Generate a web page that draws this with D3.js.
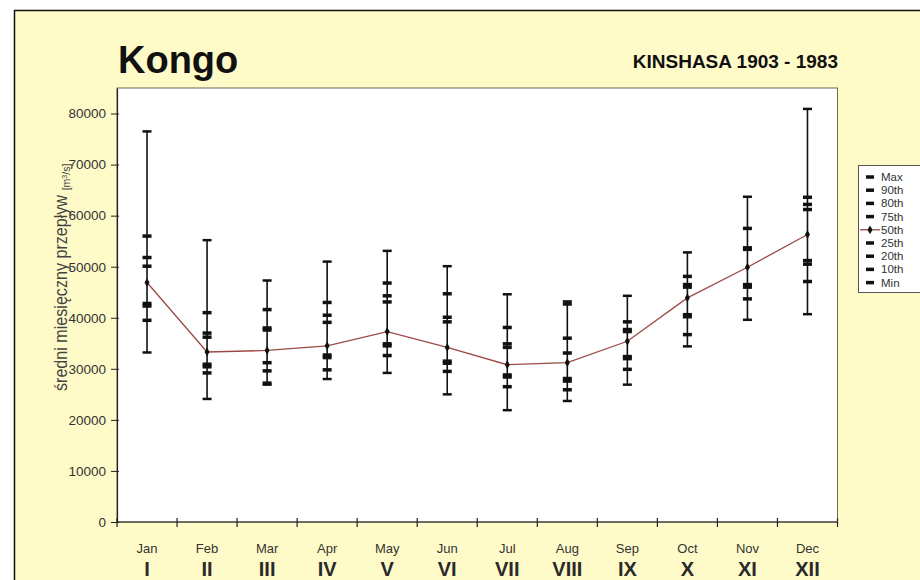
<!DOCTYPE html>
<html>
<head>
<meta charset="utf-8">
<script src="https://cdn.jsdelivr.net/npm/d3@7"></script>
<style>
  html, body { margin: 0; padding: 0; background: #ffffff; }
  svg { display: block; }
  .narrow { font-family: "Liberation Sans Narrow", "Arial Narrow", "Liberation Sans", Arial, sans-serif; font-stretch: condensed; }
</style>
</head>
<body>
<svg id="chart" width="920" height="580"></svg>
<script>
// Monthly discharge distribution of the Congo at Kinshasa, 1903-1983
const months = ["Jan", "Feb", "Mar", "Apr", "May", "Jun", "Jul", "Aug", "Sep", "Oct", "Nov", "Dec"];
const roman  = ["I", "II", "III", "IV", "V", "VI", "VII", "VIII", "IX", "X", "XI", "XII"];

const pMax = [76500, 55200, 47300, 51000, 53100, 50100, 44600, 43200, 44300, 52800, 63700, 80900];
const p90  = [56000, 41000, 41600, 43000, 46800, 44700, 38100, 42700, 39200, 48100, 57500, 63600];
const p80  = [51800, 37000, 38000, 40500, 44300, 40100, 34900, 36000, 37700, 46500, 53700, 62200];
const p75  = [50100, 36200, 37600, 39100, 43100, 39200, 34200, 33100, 37300, 46000, 53400, 61200];
const p50  = [46900, 33300, 33600, 34500, 37300, 34200, 30800, 31200, 35400, 43900, 49900, 56300];
const p25  = [42800, 30900, 31200, 32700, 34900, 31500, 28800, 28100, 32400, 40600, 46500, 51200];
const p20  = [42300, 30400, 29600, 32200, 34500, 31100, 28400, 27600, 32000, 40200, 46000, 50500];
const p10  = [39500, 29200, 27200, 29800, 32600, 29500, 26500, 25900, 29900, 36700, 43700, 47100];
const pMin = [33200, 24100, 26900, 28000, 29200, 25000, 21900, 23700, 26900, 34400, 39600, 40700];

const yTicks = [0, 10000, 20000, 30000, 40000, 50000, 60000, 70000, 80000];
const legendLabels = ["Max", "90th", "80th", "75th", "50th", "25th", "20th", "10th", "Min"];

const svg = d3.select("#chart");

// page frame with pale yellow fill
svg.append("rect")
  .attr("x", 14.5).attr("y", 10.5)
  .attr("width", 940).attr("height", 600)
  .attr("fill", "#fffbc9")
  .attr("stroke", "#111").attr("stroke-width", 1.5);

const plot = { left: 117, right: 837.5, top: 88, bottom: 522 };

const x = d3.scaleBand().domain(months).range([plot.left, plot.right]).padding(0);
const y = d3.scaleLinear().domain([0, 85000]).range([plot.bottom, plot.top]);
const cx = m => x(m) + x.bandwidth() / 2;

// plot area
svg.append("rect")
  .attr("x", plot.left).attr("y", plot.top)
  .attr("width", plot.right - plot.left).attr("height", plot.bottom - plot.top)
  .attr("fill", "#ffffff")
  .attr("stroke", "#6b6b55").attr("stroke-width", 1);

// titles
svg.append("text")
  .attr("x", 118).attr("y", 73)
  .attr("font-family", "Liberation Sans, Arial, sans-serif")
  .attr("font-weight", "bold").attr("font-size", 38)
  .attr("fill", "#111")
  .text("Kongo");

svg.append("text")
  .attr("x", 838).attr("y", 68)
  .attr("text-anchor", "end")
  .attr("font-family", "Liberation Sans, Arial, sans-serif")
  .attr("font-weight", "bold").attr("font-size", 19)
  .attr("fill", "#111")
  .text("KINSHASA 1903 - 1983");

// y axis
const yAxis = d3.axisLeft(y).tickValues(yTicks).tickFormat(d3.format("d")).tickSizeInner(6).tickSizeOuter(0).tickPadding(5);
const gy = svg.append("g").attr("transform", `translate(${plot.left},0)`).call(yAxis);
gy.select(".domain").attr("stroke", "#222").attr("stroke-width", 1.2);
gy.selectAll(".tick line").attr("stroke", "#222").attr("x2", -6).attr("x1", 2);
gy.selectAll(".tick text")
  .attr("font-family", "Liberation Sans, Arial, sans-serif")
  .attr("font-size", 13.5).attr("fill", "#333");

// x axis: ticks at category boundaries
const gx = svg.append("g").attr("transform", `translate(0,${plot.bottom})`);
gx.append("line")
  .attr("x1", plot.left).attr("x2", plot.right)
  .attr("stroke", "#222").attr("stroke-width", 1.2);
gx.selectAll("line.bt")
  .data(months.concat(["end"]))
  .join("line")
  .attr("class", "bt")
  .attr("x1", (d, i) => i < months.length ? x(d) : plot.right)
  .attr("x2", (d, i) => i < months.length ? x(d) : plot.right)
  .attr("y1", -4).attr("y2", 5)
  .attr("stroke", "#222").attr("stroke-width", 1.2);

gx.selectAll("text.mon")
  .data(months)
  .join("text")
  .attr("class", "mon")
  .attr("x", d => cx(d)).attr("y", 30.5)
  .attr("text-anchor", "middle")
  .attr("font-family", "Liberation Sans, Arial, sans-serif")
  .attr("font-size", 13).attr("fill", "#333")
  .text(d => d);

gx.selectAll("text.rom")
  .data(months)
  .join("text")
  .attr("class", "rom narrow")
  .attr("x", d => cx(d)).attr("y", 53.5)
  .attr("text-anchor", "middle")
  .attr("font-weight", "bold").attr("font-size", 20)
  .attr("fill", "#2a2a2a")
  .text((d, i) => roman[i]);

// y axis title
svg.append("text")
  .attr("transform", "translate(67,293) rotate(-90)")
  .attr("text-anchor", "middle")
  .attr("font-family", "Liberation Sans, Arial, sans-serif")
  .attr("font-size", 18).attr("fill", "#444")
  .attr("textLength", 196).attr("lengthAdjust", "spacingAndGlyphs")
  .text("średni miesięczny przepływ");

const unit = svg.append("text")
  .attr("transform", "translate(70,177) rotate(-90)")
  .attr("text-anchor", "middle")
  .attr("font-family", "Liberation Sans, Arial, sans-serif")
  .attr("font-size", 10.5).attr("fill", "#444");
unit.append("tspan").text("[m");
unit.append("tspan").attr("font-size", 7).attr("dy", -3).text("3");
unit.append("tspan").attr("dy", 3).text("/s]");

// percentile rows
const rows = months.map((m, i) => ({
  m, max: pMax[i], p90: p90[i], p80: p80[i], p75: p75[i], p50: p50[i],
  p25: p25[i], p20: p20[i], p10: p10[i], min: pMin[i]
}));

const g = svg.append("g");

// whiskers min..max
g.selectAll("line.wh").data(rows).join("line")
  .attr("class", "wh")
  .attr("x1", d => cx(d.m)).attr("x2", d => cx(d.m))
  .attr("y1", d => y(d.min)).attr("y2", d => y(d.max))
  .attr("stroke", "#111").attr("stroke-width", 1.6);

// caps at min and max
["max", "min"].forEach(k => {
  g.selectAll("rect.cap-" + k).data(rows).join("rect")
    .attr("class", "cap-" + k)
    .attr("x", d => cx(d.m) - 4.5).attr("width", 9)
    .attr("y", d => y(d[k]) - 1.25).attr("height", 2.5)
    .attr("fill", "#111");
});

// percentile dashes
["p90", "p80", "p75", "p25", "p20", "p10"].forEach(k => {
  g.selectAll("rect.mk-" + k).data(rows).join("rect")
    .attr("class", "mk-" + k)
    .attr("x", d => cx(d.m) - 4.5).attr("width", 9)
    .attr("y", d => y(d[k]) - 1.75).attr("height", 3.5)
    .attr("fill", "#111");
});

// median line
const line = d3.line().x(d => cx(d.m)).y(d => y(d.p50));
g.append("path")
  .datum(rows)
  .attr("d", line)
  .attr("fill", "none")
  .attr("stroke", "#9c4a44").attr("stroke-width", 1.3);

g.selectAll("path.med").data(rows).join("path")
  .attr("class", "med")
  .attr("d", d3.symbol(d3.symbolDiamond, 22))
  .attr("transform", d => `translate(${cx(d.m)},${y(d.p50)})`)
  .attr("fill", "#111");

// legend
const lg = svg.append("g").attr("transform", "translate(858,165)");
lg.append("rect")
  .attr("x", 0.5).attr("y", 0.5).attr("width", 80).attr("height", 127)
  .attr("fill", "#ffffff").attr("stroke", "#555").attr("stroke-width", 1);

const items = lg.selectAll("g.it").data(legendLabels).join("g")
  .attr("class", "it")
  .attr("transform", (d, i) => `translate(0,${12 + i * 13.2})`);

items.each(function(d) {
  const it = d3.select(this);
  if (d === "50th") {
    it.append("line").attr("x1", 2).attr("x2", 22).attr("y1", 0).attr("y2", 0)
      .attr("stroke", "#9c4a44").attr("stroke-width", 1.3);
    it.append("path").attr("d", d3.symbol(d3.symbolDiamond, 22)).attr("transform", "translate(12,0)")
      .attr("fill", "#111");
  } else {
    it.append("rect").attr("x", 8).attr("y", -1.75).attr("width", 8).attr("height", 3.5).attr("fill", "#111");
  }
  it.append("text").attr("x", 23).attr("y", 4)
    .attr("font-family", "Liberation Sans, Arial, sans-serif")
    .attr("font-size", 11.5).attr("fill", "#333")
    .text(d);
});
</script>
</body>
</html>
